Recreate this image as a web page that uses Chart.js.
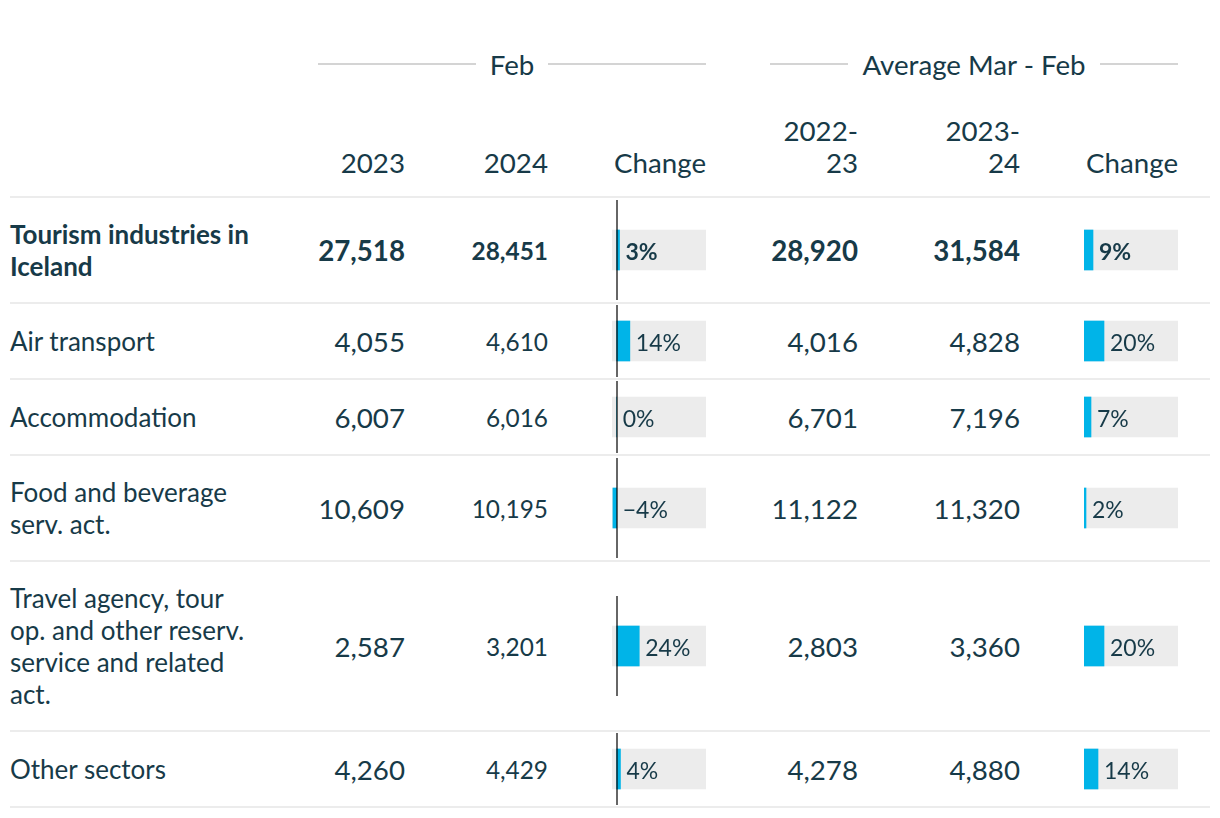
<!DOCTYPE html>
<html>
<head>
<meta charset="utf-8">
<script src="https://cdn.jsdelivr.net/npm/chart.js@4"></script>
<style>
  html, body { margin: 0; padding: 0; background: #fff; }
  body { font-family: Lato, "Open Sans", sans-serif; color: #173a48; width: 1220px; height: 818px; overflow: hidden; }
  #tbl { position: absolute; left: 10px; top: 0; width: 1200px; }
  .row { display: flex; box-sizing: border-box; border-bottom: 2px solid #ececec; align-items: center; }
  .cell { box-sizing: border-box; flex: none; display: flex; align-items: center; }
  .num { justify-content: flex-end; text-align: right; font-size: 27.7px; }
  .small { font-size: 24.4px; }
  .lbl { font-size: 26px; line-height: 32px; }
  .lbl span { display: block; width: 250px; }
  .chg { justify-content: flex-end; }
  .bold { font-weight: bold; }
  .grp { position: absolute; top: 46px; height: 36px; display: flex; align-items: center; font-size: 27.7px; }
  .grp .ln { flex: 1; height: 2px; background: #d4d4d4; }
  .grp .tx { padding: 0 14px; }
  .hdr { align-items: flex-end; padding-bottom: 17px; line-height: 32px; font-size: 27.7px; }
</style>
</head>
<body>
<div id="tbl"></div>
<script>
const categories = ['Tourism industries in Iceland', 'Air transport', 'Accommodation',
  'Food and beverage serv. act.', 'Travel agency, tour op. and other reserv. service and related act.', 'Other sectors'];
const feb2023 = [27518, 4055, 6007, 10609, 2587, 4260];
const feb2024 = [28451, 4610, 6016, 10195, 3201, 4429];
const febChange = [3, 14, 0, -4, 24, 4];
const avg2223 = [28920, 4016, 6701, 11122, 2803, 4278];
const avg2324 = [31584, 4828, 7196, 11320, 3360, 4880];
const avgChange = [9, 20, 7, 2, 20, 14];
const groupTitles = ['Feb', 'Average Mar - Feb'];
const colTitles = ['2023', '2024', 'Change', '2022-<br>23', '2023-<br>24', 'Change'];
const febRange = [-5, 95], avgRange = [0, 94];

// column widths (label, 2023, 2024, change, gap, 22-23, 23-24, change, end)
const widths = [308, 87, 143, 158, 64, 88, 162, 158, 32];
const rowHeights = [106, 76, 76, 106, 170, 76];
const tbl = document.getElementById('tbl');

function cell(w, cls, html) {
  const d = document.createElement('div');
  d.className = 'cell ' + cls;
  d.style.width = w + 'px';
  if (html !== undefined) d.innerHTML = html;
  return d;
}

// group headers
[[318, 706], [770, 1178]].forEach(([a, b], i) => {
  const g = document.createElement('div');
  g.className = 'grp';
  g.style.left = (a - 10) + 'px';
  g.style.width = (b - a) + 'px';
  g.innerHTML = `<div class="ln"></div><div class="tx">${groupTitles[i]}</div><div class="ln"></div>`;
  tbl.appendChild(g);
});

// column header row
const head = document.createElement('div');
head.className = 'row';
head.style.height = '198px';
head.style.alignItems = 'stretch';
head.appendChild(cell(widths[0], 'hdr'));
[1, 2, 3].forEach((c, i) => head.appendChild(cell(widths[c], 'num hdr', colTitles[i])));
head.appendChild(cell(widths[4], 'hdr'));
[5, 6, 7].forEach((c, i) => head.appendChild(cell(widths[c], 'num hdr', colTitles[i + 3])));
tbl.appendChild(head);

const valueLabel = {
  id: 'valueLabel',
  afterDatasetsDraw(chart, args, opts) {
    const ctx = chart.ctx, x = chart.scales.x, y = chart.scales.y;
    const v = chart.data.datasets[0].data[0];
    const px = x.getPixelForValue(Math.max(0, v)) + 6;
    const py = y.getPixelForValue(0);
    ctx.save();
    ctx.fillStyle = '#173a48';
    ctx.font = (opts.bold ? 'bold ' : '') + '23px Lato';
    ctx.textBaseline = 'middle';
    ctx.fillText((v < 0 ? '\u2212' + Math.abs(v) : v) + '%', px, py + 2.5);
    ctx.restore();
  }
};

const zeroLine = {
  id: 'zeroLine',
  afterDatasetsDraw(chart) {
    const x = chart.scales.x;
    if (x.min >= 0) return;
    const px = Math.round(x.getPixelForValue(0));
    const ctx = chart.ctx;
    ctx.save();
    ctx.strokeStyle = 'rgba(0,0,0,0.6)';
    ctx.lineWidth = 2;
    ctx.beginPath();
    ctx.moveTo(px, 0);
    ctx.lineTo(px, chart.height);
    ctx.stroke();
    ctx.restore();
  }
};

function makeBar(canvas, value, range, bold) {
  new Chart(canvas, {
    type: 'bar',
    data: {
      labels: [''],
      datasets: [
        { data: [value], backgroundColor: '#00b4e8', barThickness: 40, grouped: false, order: 0 },
        { data: [range], backgroundColor: '#ececec', barThickness: 40, grouped: false, order: 1 }
      ]
    },
    options: {
      indexAxis: 'y',
      responsive: false,
      animation: false,
      events: [],
      layout: { padding: 0 },
      scales: {
        x: { display: false, min: range[0], max: range[1] },
        y: { display: false }
      },
      plugins: { legend: { display: false }, tooltip: { enabled: false }, valueLabel: { bold } }
    },
    plugins: [valueLabel, zeroLine]
  });
}

const fmt = n => n.toLocaleString('en-US');

categories.forEach((name, i) => {
  const bold = i === 0 ? ' bold' : '';
  const r = document.createElement('div');
  r.className = 'row';
  r.style.height = rowHeights[i] + 'px';
  r.appendChild(cell(widths[0], 'lbl' + bold, `<span>${name}</span>`));
  r.appendChild(cell(widths[1], 'num' + bold, fmt(feb2023[i])));
  r.appendChild(cell(widths[2], 'num small' + bold, fmt(feb2024[i])));
  const c1 = cell(widths[3], 'chg');
  r.appendChild(c1);
  r.appendChild(cell(widths[4], ''));
  r.appendChild(cell(widths[5], 'num' + bold, fmt(avg2223[i])));
  r.appendChild(cell(widths[6], 'num' + bold, fmt(avg2324[i])));
  const c2 = cell(widths[7], 'chg');
  r.appendChild(c2);
  r.appendChild(cell(widths[8], ''));
  tbl.appendChild(r);

  const h = Math.min(100, rowHeights[i] - 4);
  [[c1, febChange[i], febRange], [c2, avgChange[i], avgRange]].forEach(([c, v, rg]) => {
    const cv = document.createElement('canvas');
    cv.width = 94; cv.height = h;
    cv.style.width = '94px'; cv.style.height = h + 'px';
    c.appendChild(cv);
    makeBar(cv, v, rg, i === 0);
  });
});
</script>
</body>
</html>
